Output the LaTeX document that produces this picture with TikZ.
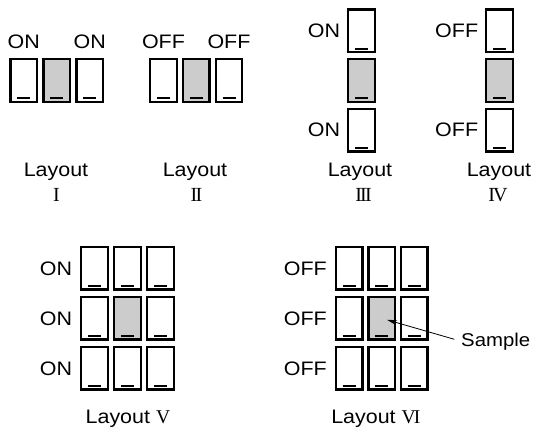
\documentclass[tikz,border=0pt]{standalone}
\usepackage{fontspec}
\setmainfont{Liberation Serif}[LetterSpace=-9]
\setsansfont{Liberation Sans}[FakeStretch=1.1]
\usetikzlibrary{arrows.meta,positioning}

\tikzset{
  cell/.style={draw, line width=2.3pt, minimum width=26.4pt, minimum height=42.4pt,
    inner sep=0pt, outer sep=0pt,
    path picture={\draw[line width=2.2pt]
      ([xshift=-6.5pt,yshift=3.4pt]path picture bounding box.south) -- ++(13pt,0);}},
  grey/.style={cell, fill=black!20},
  lbl/.style={font=\sffamily\fontsize{19.5}{22}\selectfont, inner sep=0pt},
  num/.style={font=\rmfamily\fontsize{20}{22}\selectfont, inner sep=0pt},
}

\begin{document}
\begin{tikzpicture}[x=1pt, y=-1pt]
\useasboundingbox (0,0) rectangle (534,432);

% Layout I
\node[cell] (a1) at (23.7,80.5) {};
\node[grey] (a2) at (56.7,80.5) {};
\node[cell] (a3) at (89.7,80.5) {};
\node[lbl, above=10pt of a1] (a1t) {ON};
\node[lbl, above=10pt of a3] (a3t) {ON};
\node[lbl, anchor=base] (la) at (56,176.7) {Layout};
\node[num, anchor=base] (na) at (56.5,201) {I};

% Layout II
\node[cell] (b1) at (163.5,80.5) {};
\node[grey] (b2) at (196.3,80.5) {};
\node[cell] (b3) at (229,80.5) {};
\node[lbl, above=10pt of b1] (b1t) {OFF};
\node[lbl, above=10pt of b3] (b3t) {OFF};
\node[lbl, anchor=base] (lb) at (195,176.7) {Layout};
\node[num, anchor=base] (nb) at (196.5,201) {II};

% Layout III
\node[cell] (c1) at (361.5,30.8) {};
\node[grey] (c2) at (361.5,80.5) {};
\node[cell] (c3) at (361.5,130.2) {};
\node[lbl, left=8pt of c1] (c1t) {ON};
\node[lbl, left=8pt of c3] (c3t) {ON};
\node[lbl, anchor=base] (lc) at (360,176.7) {Layout};
\node[num, anchor=base] (nc) at (363.5,201) {III};

% Layout IV
\node[cell] (d1) at (499.5,30.8) {};
\node[grey] (d2) at (499.5,80.5) {};
\node[cell] (d3) at (499.5,130.2) {};
\node[lbl, left=8pt of d1] (d1t) {OFF};
\node[lbl, left=8pt of d3] (d3t) {OFF};
\node[lbl, anchor=base] (ld) at (499,176.7) {Layout};
\node[num, anchor=base] (nd) at (498,201) {IV};

% Layout V
\node[cell] (e11) at (94.5,268.3) {};
\node[cell] (e12) at (127.5,268.3) {};
\node[cell] (e13) at (160.5,268.3) {};
\node[cell] (e21) at (94.5,318.3) {};
\node[grey] (e22) at (127.5,318.3) {};
\node[cell] (e23) at (160.5,318.3) {};
\node[cell] (e31) at (94.5,368.3) {};
\node[cell] (e32) at (127.5,368.3) {};
\node[cell] (e33) at (160.5,368.3) {};
\node[lbl, left=9pt of e11] (e1t) {ON};
\node[lbl, left=9pt of e21] (e2t) {ON};
\node[lbl, left=9pt of e31] (e3t) {ON};
\node[lbl, anchor=base] (le) at (127,423) {Layout \textrm{V}};

% Layout VI
\node[cell] (f11) at (349.2,268.3) {};
\node[cell] (f12) at (381.7,268.3) {};
\node[cell] (f13) at (414.2,268.3) {};
\node[cell] (f21) at (349.2,318.3) {};
\node[grey] (f22) at (381.7,318.3) {};
\node[cell] (f23) at (414.2,318.3) {};
\node[cell] (f31) at (349.2,368.3) {};
\node[cell] (f32) at (381.7,368.3) {};
\node[cell] (f33) at (414.2,368.3) {};
\node[lbl, left=9pt of f11] (f1t) {OFF};
\node[lbl, left=9pt of f21] (f2t) {OFF};
\node[lbl, left=9pt of f31] (f3t) {OFF};
\node[lbl, anchor=base] (lf) at (375,423) {Layout \textrm{VI}};

% sample pointer
\node[lbl, font=\sffamily\fontsize{18.5}{21}\selectfont, anchor=base west] (smp)
  at (461,346) {Sample};
\draw[-{Stealth[length=10pt,width=5pt]}, line width=0.8pt,
  shorten <=7pt, shorten >=5.5pt] (smp.west) -- (f22.center);

\end{tikzpicture}
\end{document}
